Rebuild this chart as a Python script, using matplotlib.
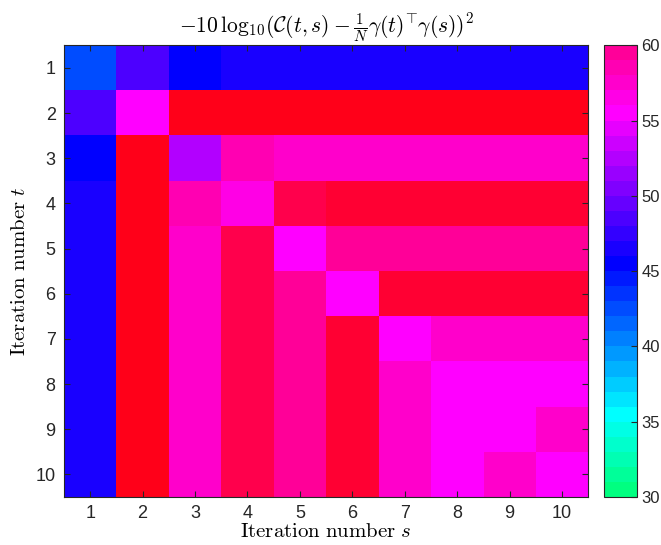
import colorsys
import numpy as np
import matplotlib
matplotlib.use("Agg")
import matplotlib.pyplot as plt
from matplotlib.colors import ListedColormap, Normalize
from matplotlib.cm import ScalarMappable

# ---- data (dB values), rows = t, columns = s ----
iters = list(range(1, 11))
row1 = [42.5, 48.5, 45.5, 46.5, 46.5, 46.5, 46.5, 46.5, 46.5, 46.5]
row2 = [48.5, 55.5, 64.5, 64.5, 64.5, 64.5, 64.5, 64.5, 64.5, 64.5]
row3 = [45.5, 64.5, 52.5, 58.5, 57.5, 57.5, 57.5, 57.5, 57.5, 57.5]
row4 = [46.5, 64.5, 58.5, 56.5, 62.5, 63.5, 63.5, 63.5, 63.5, 63.5]
row5 = [46.5, 64.5, 57.5, 62.5, 55.5, 59.5, 59.5, 59.5, 59.5, 59.5]
row6 = [46.5, 64.5, 57.5, 62.5, 59.5, 55.5, 63.5, 63.5, 63.5, 63.5]
row7 = [46.5, 64.5, 57.5, 62.5, 59.5, 63.5, 55.5, 57.5, 57.5, 57.5]
row8 = [46.5, 64.5, 57.5, 62.5, 59.5, 63.5, 57.5, 55.5, 55.5, 55.5]
row9 = [46.5, 64.5, 57.5, 62.5, 59.5, 63.5, 57.5, 55.5, 55.5, 57.5]
row10 = [46.5, 64.5, 57.5, 62.5, 59.5, 63.5, 57.5, 55.5, 57.5, 55.5]
cbar_ticks = [30, 35, 40, 45, 50, 55, 60]

data = np.array([row1, row2, row3, row4, row5, row6, row7, row8, row9, row10])

# MATLAB-like hsv(60) colormap spanning 5..65 dB (1 dB per colour)
ncol = 60
cols = [colorsys.hsv_to_rgb(i / ncol, 1.0, 1.0) for i in range(ncol)]
cmap = ListedColormap(cols)
norm = Normalize(vmin=5, vmax=65)

plt.rcParams['mathtext.fontset'] = 'cm'
plt.rcParams['font.family'] = ['Liberation Sans', 'DejaVu Sans']

fig = plt.figure(figsize=(6.61, 5.45), dpi=100)
ax = fig.add_axes([0.0968, 0.088, 0.793, 0.829])
ax.imshow(data, cmap=cmap, norm=norm, aspect='auto',
          extent=[0.5, 10.5, 10.5, 0.5], interpolation='nearest')
ax.set_xticks(iters)
ax.set_yticks(iters)
ax.set_xlim(0.5, 10.5)
ax.set_ylim(10.5, 0.5)
edge = '#262626'
for sp in ax.spines.values():
    sp.set_color(edge)
    sp.set_linewidth(0.8)
ax.tick_params(direction='in', top=True, right=True, length=4, width=0.8,
               color=edge, labelcolor=edge, labelsize=13, pad=6)
ax.set_xlabel(r'$\mathrm{Iteration\ number}\ s$', fontsize=15, labelpad=0, color='black')
ax.set_ylabel(r'$\mathrm{Iteration\ number}\ t$', fontsize=15, labelpad=5, color='black')
ax.set_title(r'$-10\,\log_{10}\!(\mathcal{C}(t,s)-\frac{1}{N}\gamma(t)^{\!\top}\!\gamma(s))^2$',
             fontsize=15.5, pad=9)

# colorbar limited to 30..60
cax = fig.add_axes([0.914, 0.088, 0.050, 0.829])
sub_cols = cols[25:55]
sm = ScalarMappable(cmap=ListedColormap(sub_cols), norm=Normalize(30, 60))
cb = fig.colorbar(sm, cax=cax, ticks=cbar_ticks)
cb.outline.set_edgecolor(edge)
cb.outline.set_linewidth(0.8)
cax.tick_params(direction='in', length=4, width=0.8, color=edge,
                labelcolor=edge, labelsize=12, pad=3)

fig.savefig('out.png', dpi=100)
